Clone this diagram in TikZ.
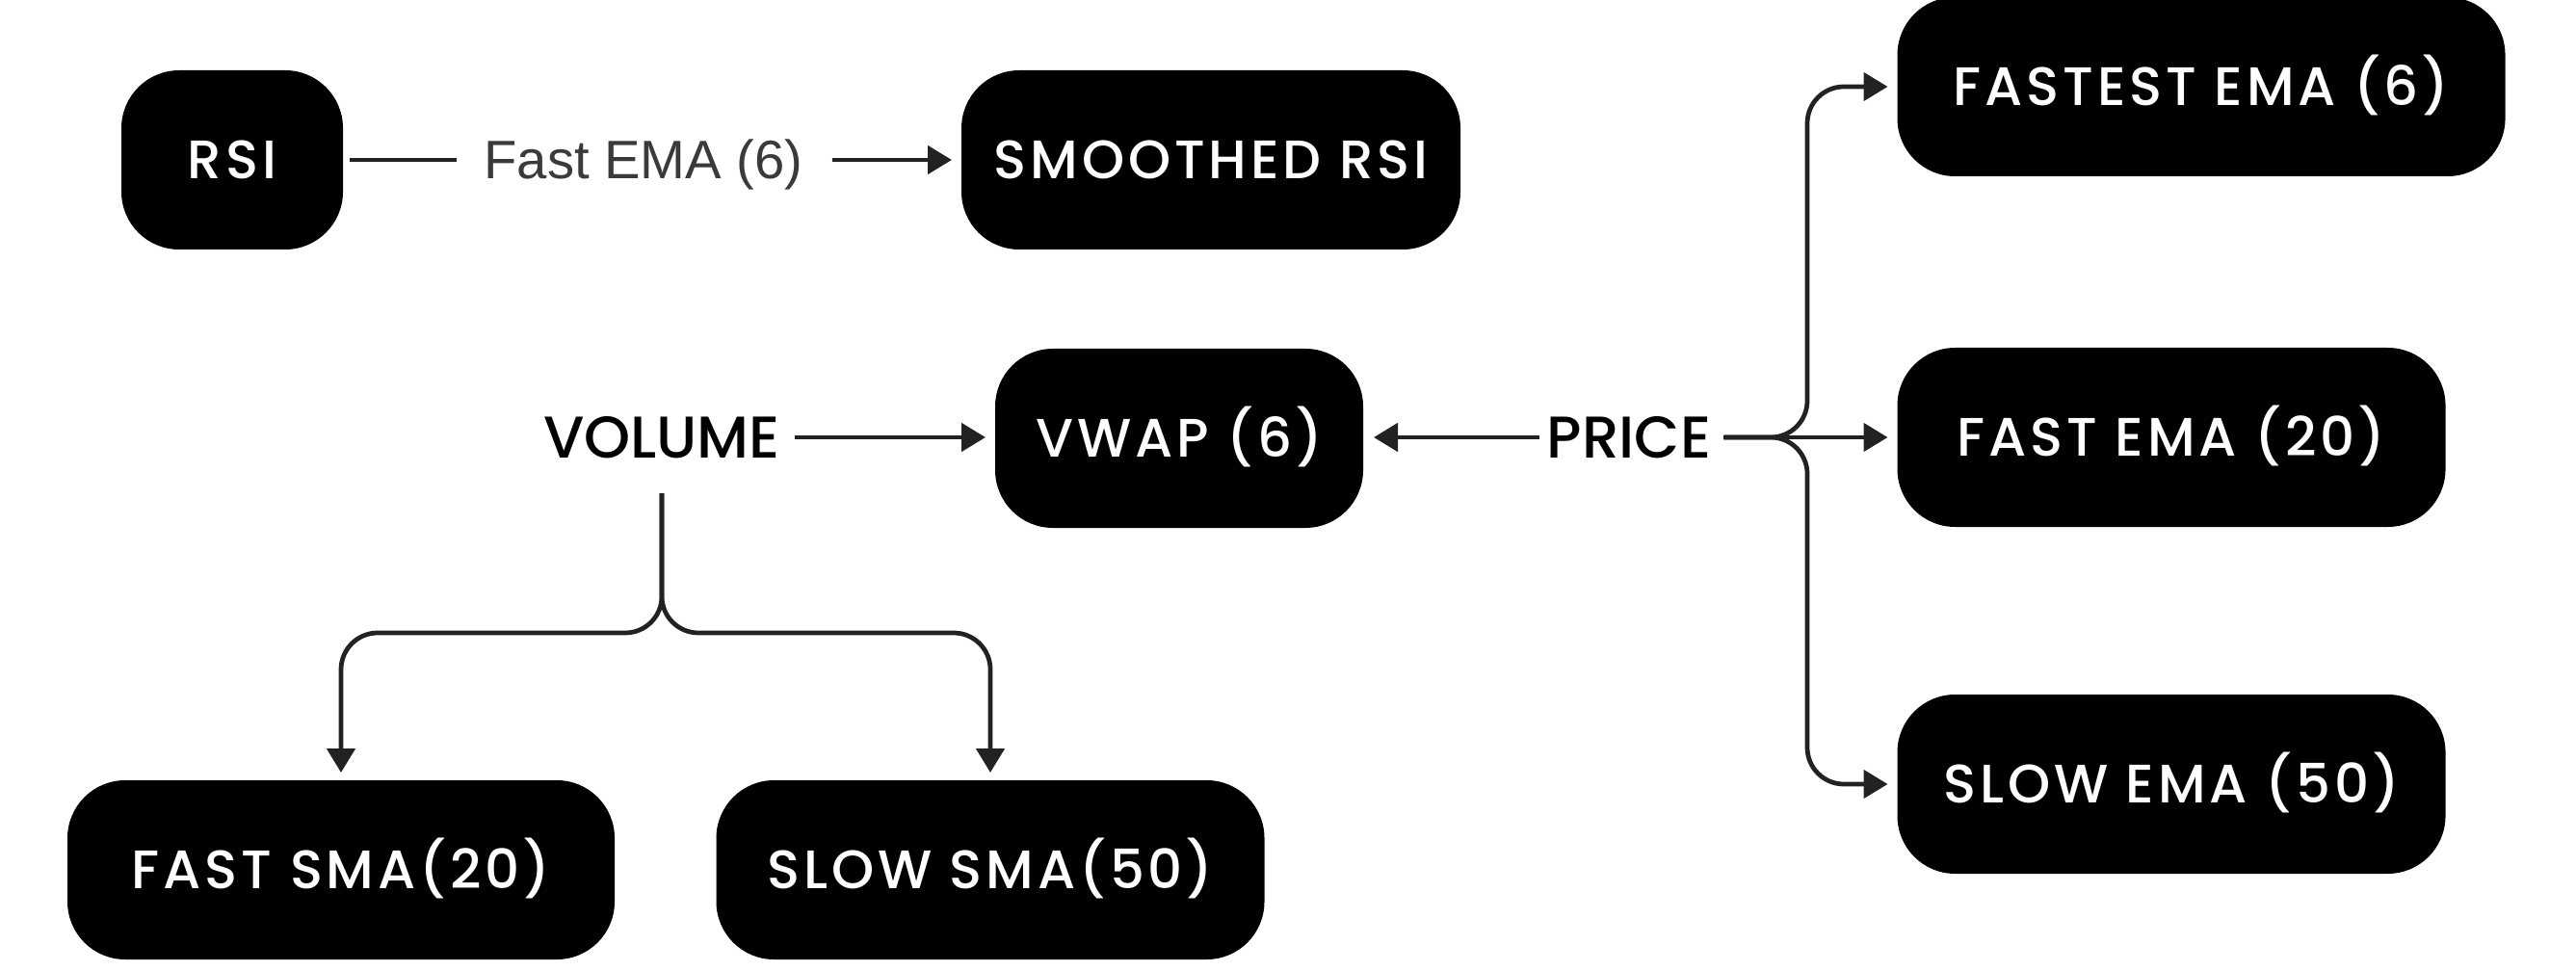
\documentclass[tikz,border=0pt]{standalone}
\usepackage{fontspec}
\setmainfont{Poppins}
\newfontfamily\boxfont{Poppins Medium}[LetterSpace=7]
\newfontfamily\lblfont{Poppins Medium}
\newfontfamily\edgefont{Liberation Sans}
\usetikzlibrary{arrows.meta}
\definecolor{linec}{HTML}{222222}
\definecolor{lblgray}{HTML}{3A3A3A}
\begin{document}
\begin{tikzpicture}[x=1cm,y=1cm,
  blk/.style={fill=black, rounded corners=0.6cm, minimum height=1.86cm, text=white,
    font=\boxfont\fontsize{16}{19}\selectfont, inner sep=0pt, outer sep=0pt,
    text height=0.39cm, text depth=0pt},
  lbl/.style={font=\lblfont\fontsize{17.4}{20}\selectfont, inner sep=0pt, outer sep=0pt,
    text height=0.43cm, text depth=0pt},
  conn/.style={draw=linec, line width=1.35pt},
  arr/.style={conn, -{Triangle[length=0.25cm,width=0.29cm]}}]
\useasboundingbox (0,0) rectangle (26.74,-10.08);

\node[blk, minimum width=2.30cm] (rsi) at (2.41,-1.66) {RSI};
\node[blk, minimum width=5.18cm] (smooth) at (12.57,-1.66) {SMOOTHED RSI};
\node[blk, minimum width=6.31cm] (fastest) at (22.85,-0.90) {FASTEST EMA (6)};
\node[blk, minimum width=3.82cm] (vwap) at (12.24,-4.55) {VWAP (6)};
\node[blk, minimum width=5.69cm] (fema) at (22.54,-4.54) {FAST EMA (20)};
\node[blk, minimum width=5.69cm] (sema) at (22.54,-8.14) {SLOW EMA (50)};
\node[blk, minimum width=5.68cm] (fsma) at (3.54,-9.03) {FAST SMA(20)};
\node[blk, minimum width=5.69cm] (ssma) at (10.28,-9.03) {SLOW SMA(50)};

\node[font=\edgefont\fontsize{16}{19}\selectfont, text=lblgray, inner sep=0pt, outer sep=0pt,
  text height=0.40cm, text depth=0pt] (fastlbl) at (6.68,-1.66) {Fast EMA (6)};
\node[lbl] (volume) at (6.87,-4.54) {VOLUME};
\node[lbl] (price) at (16.91,-4.54) {PRICE};

\coordinate (pfork) at (18.76,-4.54);
\coordinate (vfork) at (6.87,-6.57);

\draw[conn, shorten <=0.07cm, shorten >=0.28cm] (rsi.east) -- (fastlbl.west);
\draw[arr, shorten <=0.30cm, shorten >=0.10cm] (fastlbl.east) -- (smooth.west);
\draw[arr, shorten <=0.15cm, shorten >=0.10cm] (volume.east) -- (volume.east -| vwap.west);
\draw[arr, shorten <=0.08cm, shorten >=0.11cm] (price.west) -- (price.west -| vwap.east);
\draw[arr, shorten <=0.13cm, shorten >=0.10cm] (price.east) -- (fema.west);
\draw[arr, rounded corners=0.38cm, shorten <=0.13cm, shorten >=0.10cm] (price.east) -- (pfork) |- (fastest.west);
\draw[arr, rounded corners=0.38cm, shorten <=0.13cm, shorten >=0.10cm] (price.east) -- (pfork) |- (sema.west);
\draw[arr, rounded corners=0.38cm, shorten <=0.365cm, shorten >=0.08cm] (volume.south) -- (vfork) -| (fsma.north);
\draw[arr, rounded corners=0.38cm, shorten <=0.365cm, shorten >=0.08cm] (volume.south) -- (vfork) -| (ssma.north);
\end{tikzpicture}
\end{document}
